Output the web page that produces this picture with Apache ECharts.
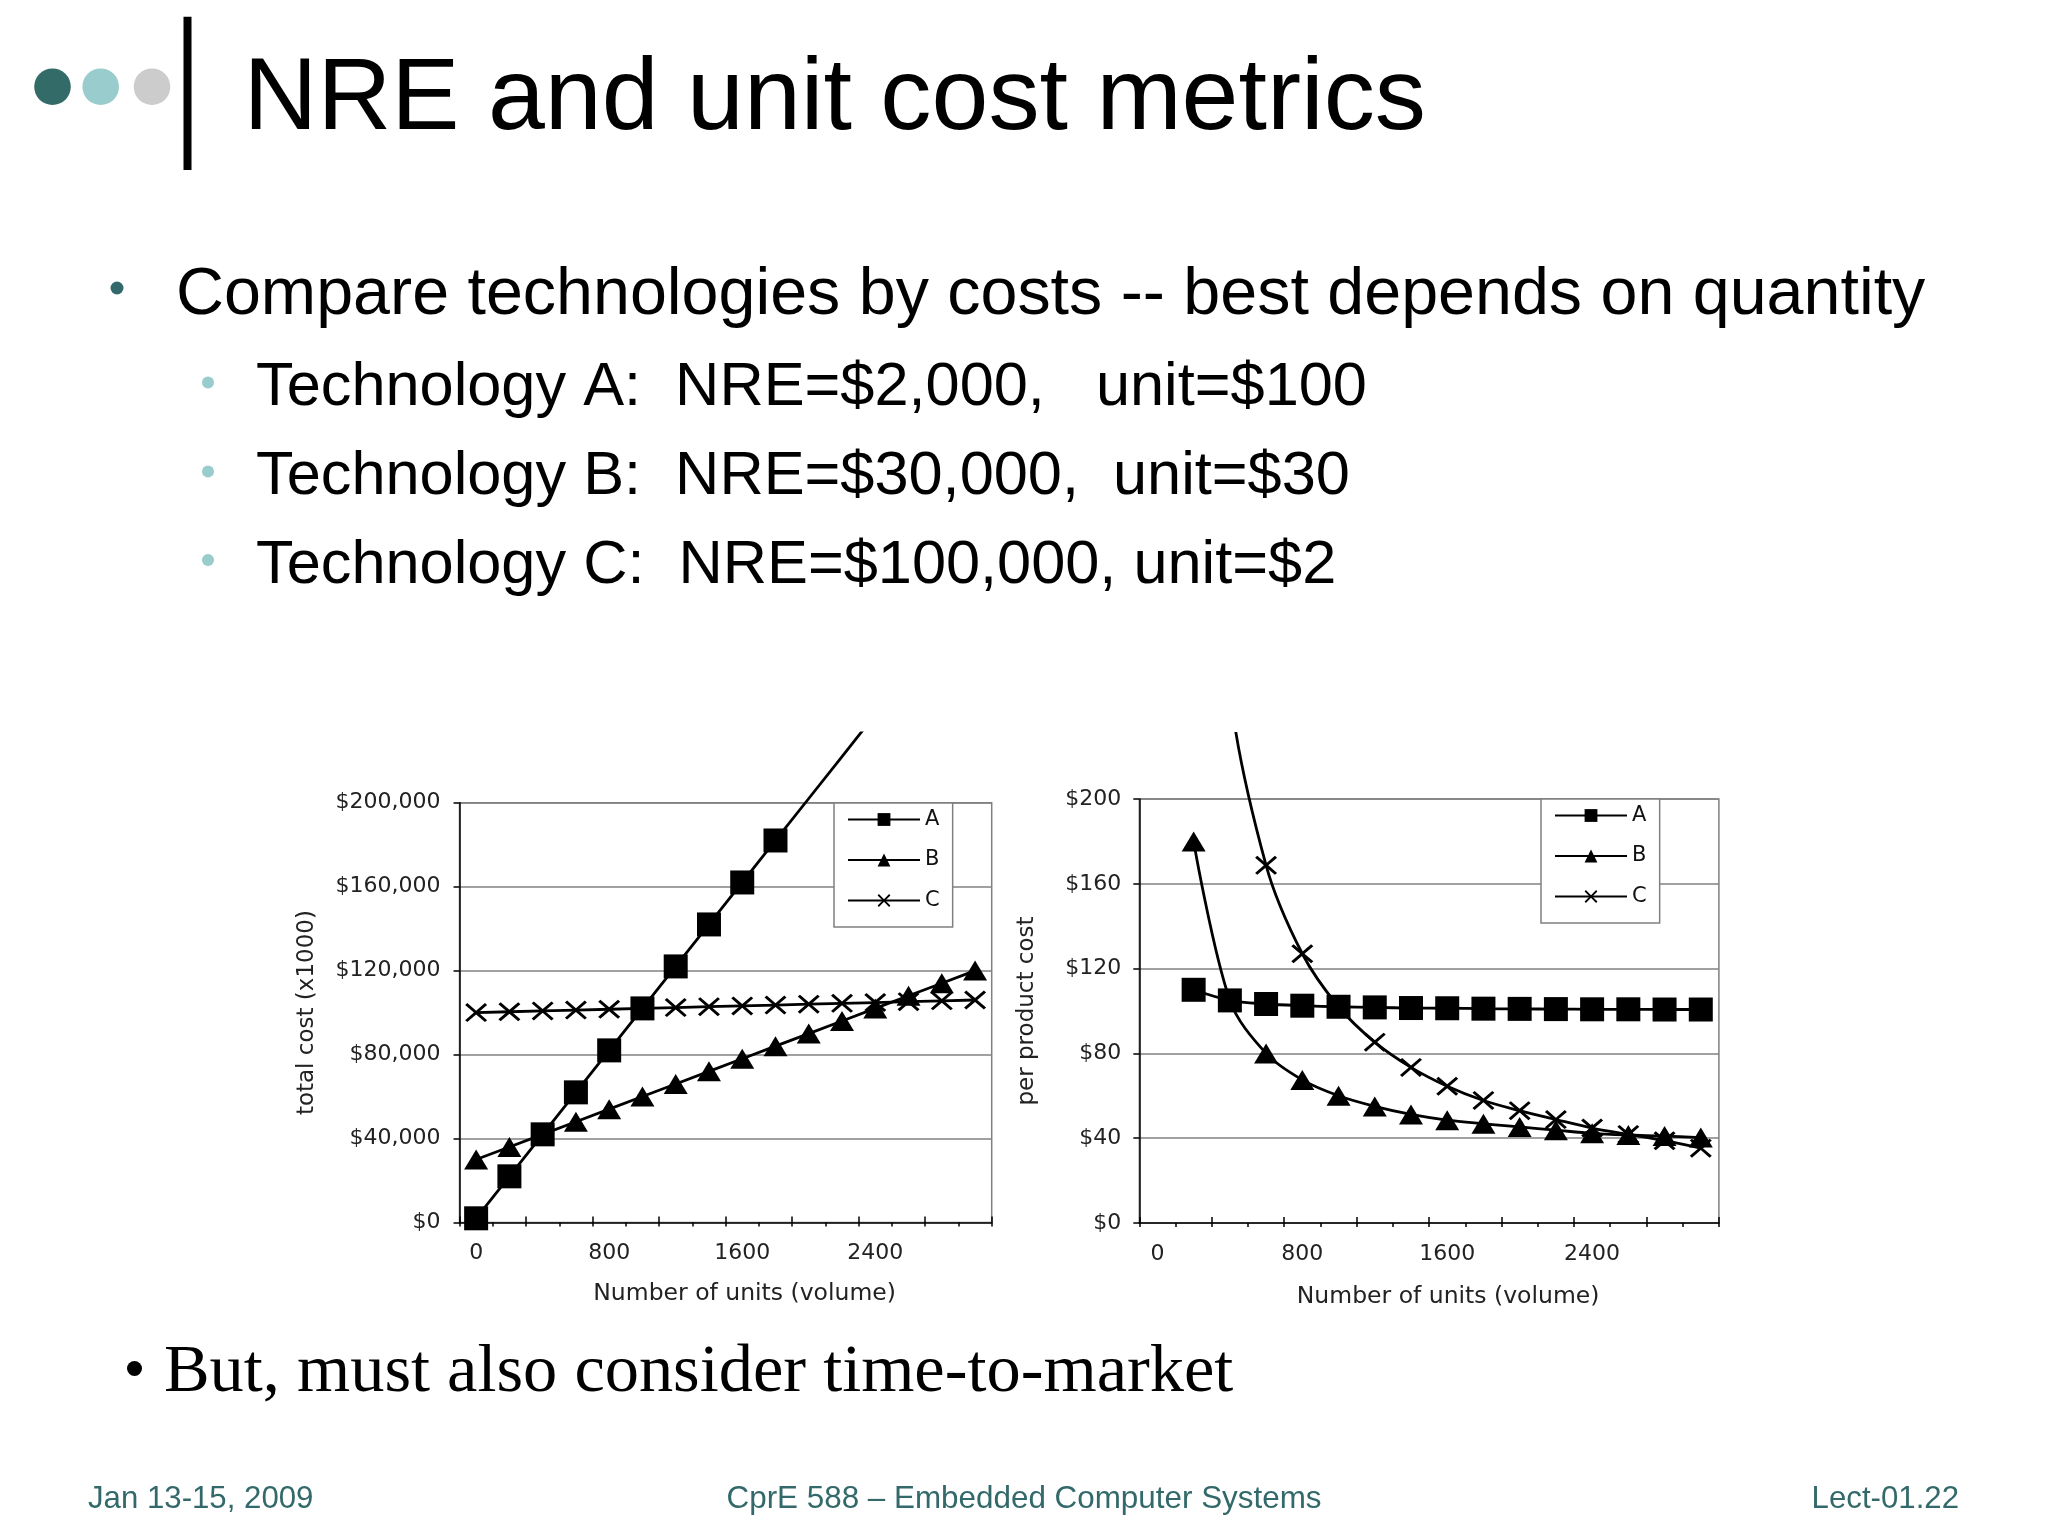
<!DOCTYPE html>
<html>
<head>
<meta charset="utf-8">
<script src="https://cdn.jsdelivr.net/npm/echarts@6/dist/echarts.min.js"></script>
<style>
html,body{margin:0;padding:0;background:#fff;}
#c{width:2048px;height:1536px;}
</style>
</head>
<body>
<div id="c"></div>
<script>
// ---------------- data ----------------
const units = [0, 200, 400, 600, 800, 1000, 1200, 1400, 1600, 1800, 2000, 2200, 2400, 2600, 2800, 3000];
const seriesNames = ['A', 'B', 'C'];

// total cost ($)
const totalA = [2000, 22000, 42000, 62000, 82000, 102000, 122000, 142000, 162000, 182000, 202000, 222000, 242000, 262000, 282000, 302000];
const totalB = [30000, 36000, 42000, 48000, 54000, 60000, 66000, 72000, 78000, 84000, 90000, 96000, 102000, 108000, 114000, 120000];
const totalC = [100000, 100400, 100800, 101200, 101600, 102000, 102400, 102800, 103200, 103600, 104000, 104400, 104800, 105200, 105600, 106000];

// per product cost ($)
const perA = [null, 110, 105, 103.3, 102.5, 102, 101.7, 101.4, 101.3, 101.1, 101, 100.9, 100.8, 100.8, 100.7, 100.7];
const perB = [null, 180, 105, 80, 67.5, 60, 55, 51.2, 48.5, 46.8, 45.3, 43.8, 42.3, 41.5, 41, 40.3];
const perC = [null, 502, 252, 168.7, 127, 102, 85.3, 73.4, 64.5, 57.8, 53, 48.8, 44.8, 41.8, 38.8, 35.3];

// tick settings
const totalTickMax = 200000, totalTickStep = 40000;
const perTickMax = 200, perTickStep = 40;

// slide text
const slideTitle = 'NRE and unit cost metrics';
const bulletMain = 'Compare technologies by costs -- best depends on quantity';
const bulletSubs = ['Technology A:  NRE=$2,000,   unit=$100', 'Technology B:  NRE=$30,000,  unit=$30', 'Technology C:  NRE=$100,000, unit=$2'];
const bulletLast = 'But, must also consider time-to-market';
const footerLeft = 'Jan 13-15, 2009', footerMid = 'CprE 588 \u2013 Embedded Computer Systems', footerRight = 'Lect-01.22';

// ---------------- layout ----------------
const LL = {plotLeft: 459.5, plotRight: 991.7, plotTop: 802.7, plotBottom: 1222.5, imageTop: 733};
const LR = {plotLeft: 1139.3, plotRight: 1718.9, plotTop: 799, plotBottom: 1223, imageTop: 733.3};
const CF = 'DejaVu Sans';
const TEAL = '#33696A';

function frameGrid(L) {
  return {left: L.plotLeft, top: L.plotTop, width: L.plotRight - L.plotLeft, height: L.plotBottom - L.plotTop,
    show: true, borderColor: '#808080', borderWidth: 1.5, backgroundColor: 'transparent', containLabel: false, outerBoundsMode: 'none'};
}
function dataGrid(L) {
  return {left: L.plotLeft, top: L.imageTop, width: L.plotRight - L.plotLeft, height: L.plotBottom - L.imageTop,
    show: false, containLabel: false, outerBoundsMode: 'none'};
}
function topValue(L, tickMax) { return tickMax * (L.plotBottom - L.imageTop) / (L.plotBottom - L.plotTop); }
function sizeUpTo(size, maxV) {
  return function (val) {
    const v = Array.isArray(val) ? val[val.length - 1] : val;
    return (v == null || isNaN(v) || v > maxV) ? 0 : size;
  };
}
const axisBlack = {color: '#000', width: 1.5};
function frameX(gi, gap) {
  return [{
    gridIndex: gi, type: 'category', data: units, boundaryGap: true, position: 'bottom',
    axisLine: {show: true, onZero: false, lineStyle: axisBlack},
    axisTick: {show: true, interval: 0, length: 4, alignWithLabel: false, lineStyle: axisBlack},
    axisLabel: {show: true, interval: 3, margin: 20, fontFamily: CF, fontSize: 22, color: '#222'},
    splitLine: {show: false},
    name: 'Number of units (volume)', nameLocation: 'middle', nameGap: gap,
    nameTextStyle: {fontFamily: CF, fontSize: 23.5, color: '#222', padding: [0, 0, 0, 38]}
  }, {
    gridIndex: gi, type: 'category', data: units, boundaryGap: true, position: 'bottom',
    axisLine: {show: false, onZero: false},
    axisTick: {show: true, inside: true, interval: 1, length: 6, alignWithLabel: false, lineStyle: axisBlack},
    axisLabel: {show: false}, splitLine: {show: false}
  }];
}
function frameY(gi, max, step, fmt, name, gap, margin) {
  return {
    gridIndex: gi, type: 'value', min: 0, max: max, interval: step,
    axisLine: {show: true, onZero: false, lineStyle: axisBlack},
    axisTick: {show: true, length: 6, lineStyle: axisBlack},
    axisLabel: {margin: margin, fontFamily: CF, fontSize: 22, color: '#222', formatter: fmt},
    splitLine: {show: true, showMinLine: false, lineStyle: {color: '#808080', width: 1.5}},
    name: name, nameLocation: 'middle', nameGap: gap,
    nameTextStyle: {fontFamily: CF, fontSize: 23, color: '#222'}
  };
}
const xPath = 'path://M0,1 L1,0 L5,4 L9,0 L10,1 L6,5 L10,9 L9,10 L5,6 L1,10 L0,9 L4,5 Z';
function mkSeries(name, data, xi, yi, symbol, size, maxV, smooth) {
  return {
    name: name, type: 'line', data: data, xAxisIndex: xi, yAxisIndex: yi,
    symbol: symbol, symbolSize: sizeUpTo(size, maxV), symbolKeepAspect: false,
    smooth: smooth, clip: true, connectNulls: false, showAllSymbol: true,
    color: '#000', lineStyle: {color: '#000', width: 2.8}, itemStyle: {color: '#000'},
    emphasis: {disabled: true}, z: 3
  };
}
const legendText = {fontFamily: CF, fontSize: 21, color: '#111'};
function legendAt(left, top) {
  return {
    data: seriesNames.map(n => ({name: n, textStyle: legendText})),
    orient: 'vertical', left: left, top: top,
    itemWidth: 72, itemHeight: 16, itemGap: 19.5, padding: [6, 13, 16, 13],
    borderColor: '#808080', borderWidth: 1.5, backgroundColor: '#fff', selectedMode: false,
    textStyle: legendText
  };
}
function txt(x, y, text, font, fill, align) {
  return {type: 'text', x: x, y: y, silent: true,
    style: {text: text, font: font, fill: fill, textAlign: align || 'left', textVerticalAlign: 'middle', align: align || 'left', verticalAlign: 'middle'}};
}

const fmtTotal = v => '$' + v.toLocaleString('en-US');
const fmtPer = v => '$' + v;

const xL = frameX(0, 59), xR = frameX(2, 62);
const option = {
  animation: false,
  backgroundColor: '#fff',
  grid: [frameGrid(LL), dataGrid(LL), frameGrid(LR), dataGrid(LR)],
  xAxis: [
    xL[0], xL[1],
    {gridIndex: 1, type: 'category', data: units, boundaryGap: true, show: false},
    xR[0], xR[1],
    {gridIndex: 3, type: 'category', data: units, boundaryGap: true, show: false}
  ],
  yAxis: [
    frameY(0, totalTickMax, totalTickStep, fmtTotal, 'total cost (x1000)', 141, 19),
    {gridIndex: 1, type: 'value', min: 0, max: topValue(LL, totalTickMax), show: false},
    frameY(2, perTickMax, perTickStep, fmtPer, 'per product cost', 101, 18),
    {gridIndex: 3, type: 'value', min: 0, max: topValue(LR, perTickMax), show: false}
  ],
  legend: [legendAt(834, 803), legendAt(1541, 799)],
  series: [
    mkSeries('A', totalA, 2, 1, 'rect', 24, totalTickMax, false),
    mkSeries('B', totalB, 2, 1, 'triangle', [24, 20], totalTickMax, false),
    mkSeries('C', totalC, 2, 1, xPath, [22, 19], totalTickMax, false),
    mkSeries('A', perA, 5, 3, 'rect', 24, perTickMax, 0.33),
    mkSeries('B', perB, 5, 3, 'triangle', [24, 20], perTickMax, 0.33),
    mkSeries('C', perC, 5, 3, xPath, [22, 19], perTickMax, 0.33)
  ],
  graphic: [
    {type: 'circle', shape: {cx: 52.5, cy: 86.7, r: 18.3}, style: {fill: '#336B69'}},
    {type: 'circle', shape: {cx: 100.7, cy: 86.7, r: 18.3}, style: {fill: '#99CCCC'}},
    {type: 'circle', shape: {cx: 152, cy: 86.7, r: 18.3}, style: {fill: '#CCCCCC'}},
    {type: 'rect', shape: {x: 183.5, y: 16.7, width: 8, height: 153.3}, style: {fill: '#000'}},
    txt(243.5, 100.3, slideTitle, '102.3px "Liberation Sans"', '#000'),
    {type: 'circle', shape: {cx: 117, cy: 288, r: 6.5}, style: {fill: TEAL}},
    txt(176, 296, bulletMain, '66.4px "Liberation Sans"', '#000'),
    {type: 'circle', shape: {cx: 208, cy: 382.5, r: 6}, style: {fill: '#99CCCC'}},
    {type: 'circle', shape: {cx: 208, cy: 471.5, r: 6}, style: {fill: '#99CCCC'}},
    {type: 'circle', shape: {cx: 208, cy: 560, r: 6}, style: {fill: '#99CCCC'}},
    txt(256, 388.1, bulletSubs[0], '61.3px "Liberation Sans"', '#000'),
    txt(256, 476.9, bulletSubs[1], '61.3px "Liberation Sans"', '#000'),
    txt(256, 565.7, bulletSubs[2], '61.3px "Liberation Sans"', '#000'),
    {type: 'circle', shape: {cx: 134.5, cy: 1368.5, r: 7.5}, style: {fill: '#000'}},
    txt(164, 1373.5, bulletLast, '68.4px "Liberation Serif"', '#000'),
    txt(88, 1499.4, footerLeft, '31.2px "Liberation Sans"', TEAL),
    txt(1024, 1499.4, footerMid, '31.4px "Liberation Sans"', TEAL, 'center'),
    txt(1959, 1499.4, footerRight, '31.2px "Liberation Sans"', TEAL, 'right')
  ]
};
const chart = echarts.init(document.getElementById('c'), null, {renderer: 'canvas', width: 2048, height: 1536});
chart.setOption(option);
</script>
</body>
</html>
